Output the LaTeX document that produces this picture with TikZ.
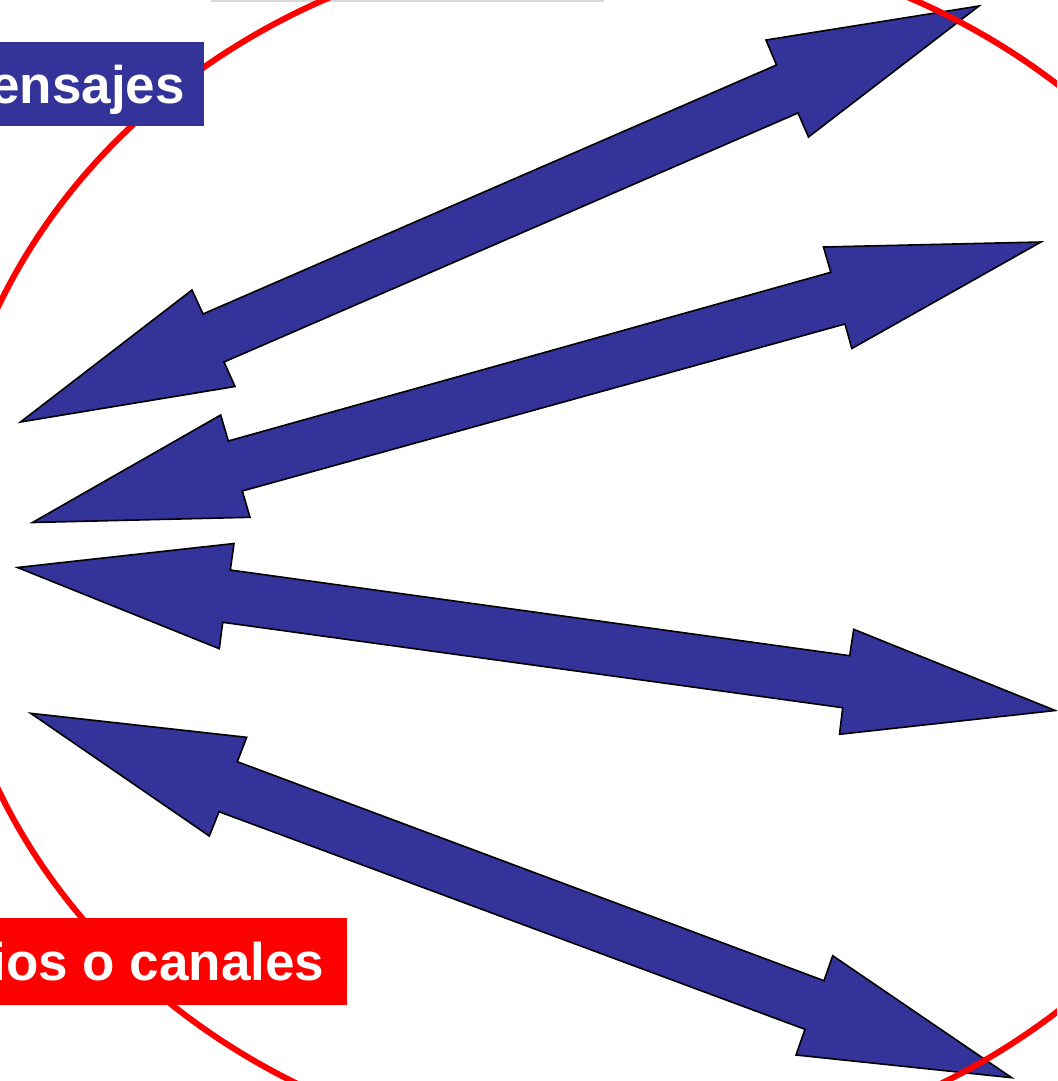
\documentclass[tikz,border=0pt]{standalone}
\usepackage{fontspec}
\setmainfont{Liberation Sans}
\definecolor{arrowblue}{HTML}{333399}
\definecolor{ringred}{HTML}{FF0000}
\definecolor{topgray}{HTML}{D9D9D9}
\tikzset{
  blockarrow/.style={fill=arrowblue, draw=black, line width=1.6pt, line join=miter},
  ring/.style={draw=ringred, line width=6pt},
  labeltext/.style={text=white, font=\bfseries\fontsize{53}{60}\selectfont, inner sep=0pt},
}
\begin{document}
\begin{tikzpicture}[x=1pt, y=-1pt]
\useasboundingbox (0,0) rectangle (1057,1081);
\clip (0,0) rectangle (1057,1081);
% top gray strip
\fill[topgray] (211,0) rectangle (604,2.5);
% arrows
\draw[blockarrow] (979,6) -- (766,40) -- (776.5,65) -- (203,314) -- (192,290) -- (20.5,422)
  -- (235,386.5) -- (224,362) -- (798,113) -- (808.5,137) -- cycle;
\draw[blockarrow] (1041,242) -- (823.5,247) -- (830.8,272.3) -- (228.3,441) -- (220.7,415) -- (32.5,522.5)
  -- (250,517.3) -- (242.3,491) -- (845,324) -- (851.8,348.5) -- cycle;
\draw[blockarrow] (17.5,567.5) -- (234,543.5) -- (230.3,570) -- (849.7,655.7) -- (853.7,629.3) -- (1055.3,710.5)
  -- (839.5,734.3) -- (842.7,707.7) -- (222.7,622.3) -- (219.3,648.7) -- cycle;
\draw[blockarrow] (30.7,713.3) -- (246.7,737.3) -- (237.3,761.7) -- (824,980.7) -- (832.7,955.7) -- (1011.7,1077.7)
  -- (796,1055) -- (805,1029.3) -- (219,811.7) -- (209.3,836) -- cycle;
% red ellipse
\draw[ring] (619,548) ellipse [x radius=676, y radius=609];
% labels
\fill[arrowblue] (0,42) rectangle (204,126);
\node[labeltext, anchor=base east] (mensajes) at (185,103) {ensajes};
\fill[ringred] (0,918) rectangle (347.3,1005);
\node[labeltext, anchor=base east] (canales) at (324.5,980) {ios o canales};
\end{tikzpicture}
\end{document}
